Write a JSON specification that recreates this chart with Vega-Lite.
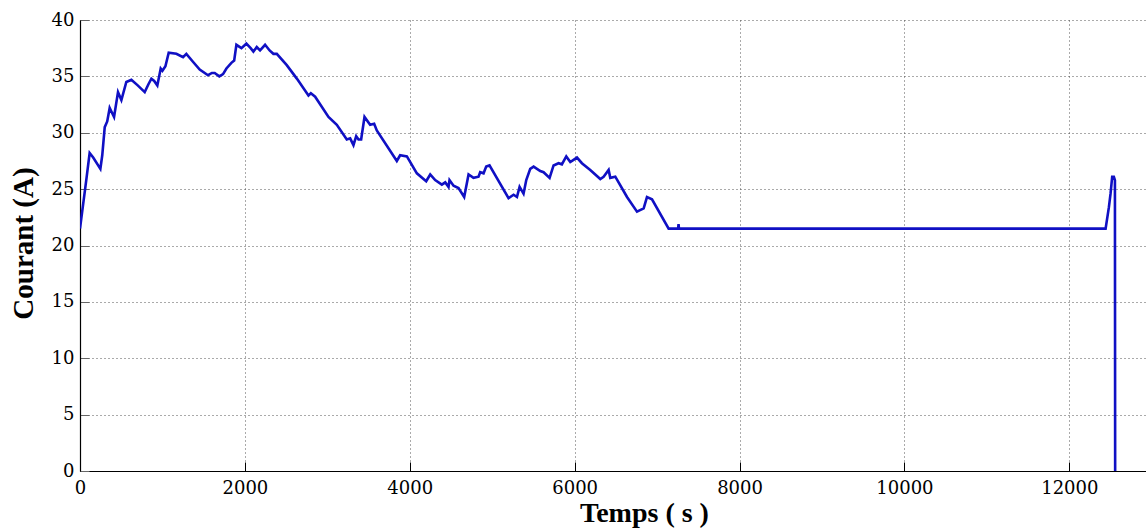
{
  "$schema": "https://vega.github.io/schema/vega-lite/v6.json",
  "width": 1066,
  "height": 451,
  "autosize": {"type": "none"},
  "padding": {"left": 80, "top": 20, "right": 0, "bottom": 58},
  "background": "white",
  "config": {"view": {"stroke": null}},
  "data": {"values": [
    {"t": 0, "I": 21.5}, {"t": 30, "I": 23.2}, {"t": 76, "I": 25.8}, {"t": 117, "I": 28.2}, {"t": 160, "I": 27.8},
    {"t": 247, "I": 26.8}, {"t": 270, "I": 28.0}, {"t": 300, "I": 30.5}, {"t": 330, "I": 31.0}, {"t": 360, "I": 32.2},
    {"t": 413, "I": 31.4}, {"t": 461, "I": 33.6}, {"t": 502, "I": 32.9}, {"t": 562, "I": 34.5}, {"t": 623, "I": 34.7},
    {"t": 700, "I": 34.2}, {"t": 785, "I": 33.6}, {"t": 830, "I": 34.3}, {"t": 866, "I": 34.8}, {"t": 900, "I": 34.6},
    {"t": 938, "I": 34.2}, {"t": 979, "I": 35.7}, {"t": 1000, "I": 35.5}, {"t": 1036, "I": 35.9}, {"t": 1076, "I": 37.1},
    {"t": 1169, "I": 37.0}, {"t": 1250, "I": 36.7}, {"t": 1290, "I": 37.0}, {"t": 1370, "I": 36.3}, {"t": 1452, "I": 35.6},
    {"t": 1553, "I": 35.1}, {"t": 1600, "I": 35.3}, {"t": 1634, "I": 35.3}, {"t": 1690, "I": 35.0}, {"t": 1735, "I": 35.2},
    {"t": 1776, "I": 35.7}, {"t": 1836, "I": 36.2}, {"t": 1870, "I": 36.4}, {"t": 1897, "I": 37.8}, {"t": 1958, "I": 37.5},
    {"t": 2018, "I": 37.9}, {"t": 2070, "I": 37.5}, {"t": 2103, "I": 37.2}, {"t": 2144, "I": 37.6}, {"t": 2184, "I": 37.3},
    {"t": 2245, "I": 37.8}, {"t": 2300, "I": 37.3}, {"t": 2346, "I": 37.0}, {"t": 2387, "I": 37.0}, {"t": 2508, "I": 36.0},
    {"t": 2630, "I": 34.8}, {"t": 2771, "I": 33.3}, {"t": 2800, "I": 33.5}, {"t": 2852, "I": 33.2}, {"t": 3014, "I": 31.4},
    {"t": 3115, "I": 30.7}, {"t": 3236, "I": 29.4}, {"t": 3277, "I": 29.5}, {"t": 3317, "I": 28.9}, {"t": 3350, "I": 29.7},
    {"t": 3378, "I": 29.4}, {"t": 3410, "I": 29.4}, {"t": 3451, "I": 31.4}, {"t": 3519, "I": 30.7}, {"t": 3568, "I": 30.8},
    {"t": 3600, "I": 30.2}, {"t": 3843, "I": 27.5}, {"t": 3883, "I": 28.0}, {"t": 3965, "I": 27.9}, {"t": 4086, "I": 26.4},
    {"t": 4199, "I": 25.7}, {"t": 4248, "I": 26.3}, {"t": 4308, "I": 25.8}, {"t": 4389, "I": 25.4}, {"t": 4430, "I": 25.6},
    {"t": 4470, "I": 25.2}, {"t": 4482, "I": 25.8}, {"t": 4531, "I": 25.3}, {"t": 4591, "I": 25.1}, {"t": 4660, "I": 24.3},
    {"t": 4713, "I": 26.3}, {"t": 4773, "I": 26.0}, {"t": 4834, "I": 26.1}, {"t": 4854, "I": 26.5}, {"t": 4895, "I": 26.4},
    {"t": 4927, "I": 27.0}, {"t": 4967, "I": 27.1}, {"t": 5198, "I": 24.2}, {"t": 5259, "I": 24.5}, {"t": 5300, "I": 24.3},
    {"t": 5332, "I": 25.2}, {"t": 5380, "I": 24.6}, {"t": 5413, "I": 25.8}, {"t": 5461, "I": 26.8}, {"t": 5502, "I": 27.0},
    {"t": 5583, "I": 26.6}, {"t": 5623, "I": 26.5}, {"t": 5696, "I": 26.0}, {"t": 5744, "I": 27.1}, {"t": 5805, "I": 27.3},
    {"t": 5845, "I": 27.2}, {"t": 5898, "I": 27.9}, {"t": 5947, "I": 27.4}, {"t": 6028, "I": 27.8}, {"t": 6088, "I": 27.3},
    {"t": 6189, "I": 26.7}, {"t": 6311, "I": 25.9}, {"t": 6351, "I": 26.1}, {"t": 6412, "I": 26.7}, {"t": 6432, "I": 26.0},
    {"t": 6493, "I": 26.1}, {"t": 6635, "I": 24.3}, {"t": 6756, "I": 23.0}, {"t": 6837, "I": 23.3}, {"t": 6877, "I": 24.3},
    {"t": 6938, "I": 24.1}, {"t": 7140, "I": 21.5}, {"t": 7255, "I": 21.5}, {"t": 7260, "I": 21.9}, {"t": 7265, "I": 21.5},
    {"t": 12440, "I": 21.5}, {"t": 12480, "I": 23.4}, {"t": 12500, "I": 24.6}, {"t": 12520, "I": 26.1}, {"t": 12540, "I": 26.1},
    {"t": 12553, "I": 25.8}, {"t": 12556, "I": 0}
  ]},
  "mark": {"type": "line", "color": "#1010c4", "strokeWidth": 2.6, "clip": true},
  "encoding": {
    "x": {
      "field": "t", "type": "quantitative",
      "scale": {"domain": [0, 12930], "nice": false, "zero": false},
      "axis": {
        "values": [0, 2000, 4000, 6000, 8000, 10000, 12000],
        "format": "d",
        "title": "Temps ( s )",
        "titleFont": "Liberation Serif", "titleFontWeight": "bold", "titleFontSize": 28, "titleColor": "black",
        "titleX": 564, "titleY": 50, "titleAlign": "center", "titleBaseline": "alphabetic", "titleAnchor": null,
        "labelFont": "DejaVu Serif", "labelFontSize": 18, "labelColor": "black", "labelFlush": false, "labelPadding": 17,
        "domainColor": "black", "domainWidth": 1.2,
        "tickColor": "black", "tickSize": -9,
        "grid": true, "gridColor": "#444444", "gridDash": [1, 3], "gridOpacity": 0.9, "gridWidth": 1
      }
    },
    "y": {
      "field": "I", "type": "quantitative",
      "scale": {"domain": [0, 40], "nice": false},
      "axis": {
        "values": [0, 5, 10, 15, 20, 25, 30, 35, 40],
        "title": "Courant (A)",
        "titleFont": "Liberation Serif", "titleFontWeight": "bold", "titleFontSize": 29, "titleColor": "black",
        "titleX": -48, "titleY": 223, "titleAlign": "center", "titleBaseline": "alphabetic", "titleAngle": -90, "titleAnchor": null,
        "labelFont": "DejaVu Serif", "labelFontSize": 18, "labelColor": "black", "labelFlush": false, "labelPadding": 15,
        "domainColor": "black", "domainWidth": 1.2,
        "tickColor": "#666666", "tickSize": -9,
        "grid": true, "gridColor": "#444444", "gridDash": [1, 3], "gridOpacity": 0.9, "gridWidth": 1
      }
    }
  }
}
